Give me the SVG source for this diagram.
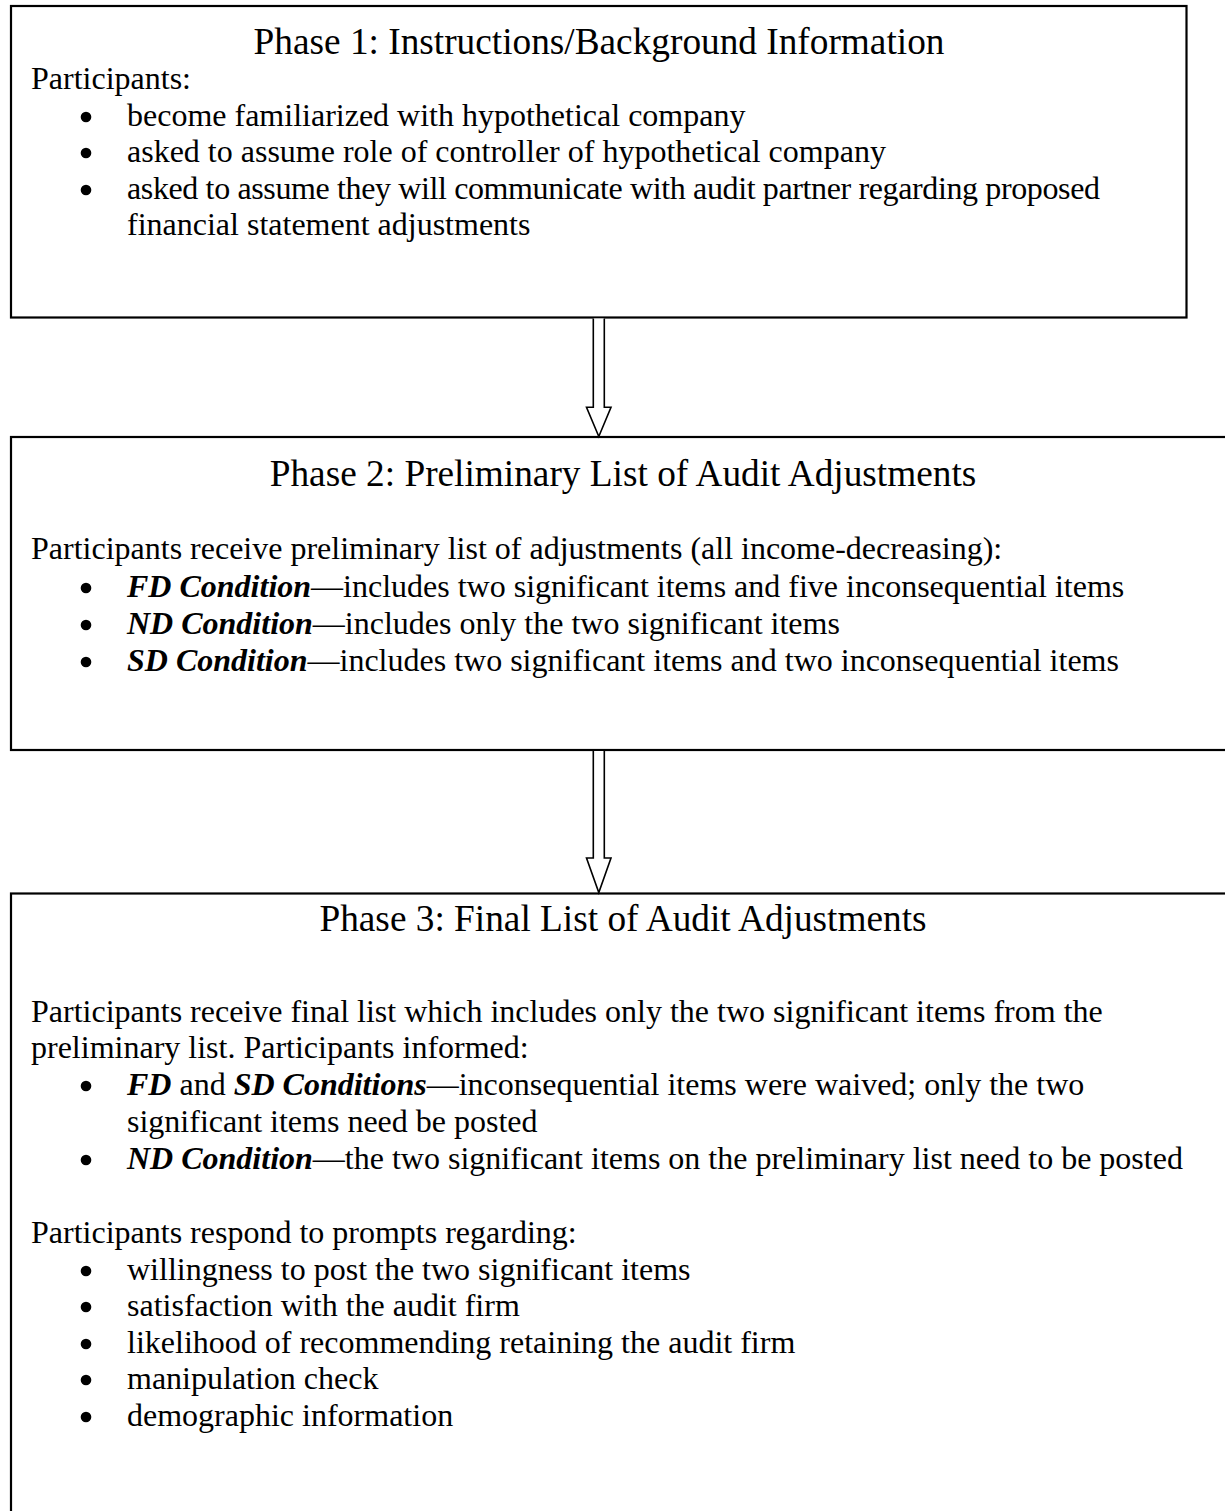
<svg xmlns="http://www.w3.org/2000/svg" width="1225" height="1511" viewBox="0 0 1225 1511">
<style>
.t{font-family:"Liberation Serif","Times New Roman",serif;font-size:32px;fill:#000}
.h{font-size:37.3px;text-anchor:middle}
.bi{font-weight:bold;font-style:italic}
.dot{fill:#000}
.box{fill:#fff;stroke:#000;stroke-width:2.2}
.arr{fill:#fff;stroke:#000;stroke-width:1.6;stroke-linejoin:miter}
</style>
<rect width="1225" height="1511" fill="#fff"/>
<g id="phase1">
<rect class="box" x="11" y="6" width="1175.5" height="311.5"/>
<text class="t h" x="599" y="54">Phase 1: Instructions/Background Information</text>
<text class="t" x="31" y="89">Participants:</text>
<circle class="dot" cx="86" cy="117" r="5.3"/>
<text class="t" x="127" y="126">become familiarized with hypothetical company</text>
<circle class="dot" cx="86" cy="153" r="5.3"/>
<text class="t" x="127" y="162">asked to assume role of controller of hypothetical company</text>
<circle class="dot" cx="86" cy="190" r="5.3"/>
<text class="t" x="127" y="199" textLength="973" lengthAdjust="spacing">asked to assume they will communicate with audit partner regarding proposed</text>
<text class="t" x="127" y="235">financial statement adjustments</text>
</g>
<g id="phase2">
<rect class="box" x="11" y="437" width="1225" height="313"/>
<text class="t h" x="623" y="486">Phase 2: Preliminary List of Audit Adjustments</text>
<text class="t" x="31" y="559">Participants receive preliminary list of adjustments (all income-decreasing):</text>
<circle class="dot" cx="86" cy="588" r="5.3"/>
<text class="t" x="127" y="597"><tspan class="bi">FD Condition</tspan>—includes two significant items and five inconsequential items</text>
<circle class="dot" cx="86" cy="625" r="5.3"/>
<text class="t" x="127" y="634"><tspan class="bi">ND Condition</tspan>—includes only the two significant items</text>
<circle class="dot" cx="86" cy="662" r="5.3"/>
<text class="t" x="127" y="671"><tspan class="bi">SD Condition</tspan>—includes two significant items and two inconsequential items</text>
</g>
<g id="phase3">
<rect class="box" x="11" y="893.5" width="1225" height="640"/>
<text class="t h" x="623" y="931">Phase 3: Final List of Audit Adjustments</text>
<text class="t" x="31" y="1022">Participants receive final list which includes only the two significant items from the</text>
<text class="t" x="31" y="1058">preliminary list. Participants informed:</text>
<circle class="dot" cx="86" cy="1086" r="5.3"/>
<text class="t" x="127" y="1095"><tspan class="bi">FD</tspan> and <tspan class="bi">SD Conditions</tspan>—inconsequential items were waived; only the two</text>
<text class="t" x="127" y="1132">significant items need be posted</text>
<circle class="dot" cx="86" cy="1160" r="5.3"/>
<text class="t" x="127" y="1169"><tspan class="bi">ND Condition</tspan>—the two significant items on the preliminary list need to be posted</text>
<text class="t" x="31" y="1243">Participants respond to prompts regarding:</text>
<circle class="dot" cx="86" cy="1271" r="5.3"/>
<text class="t" x="127" y="1280">willingness to post the two significant items</text>
<circle class="dot" cx="86" cy="1307" r="5.3"/>
<text class="t" x="127" y="1316">satisfaction with the audit firm</text>
<circle class="dot" cx="86" cy="1344" r="5.3"/>
<text class="t" x="127" y="1353">likelihood of recommending retaining the audit firm</text>
<circle class="dot" cx="86" cy="1380" r="5.3"/>
<text class="t" x="127" y="1389">manipulation check</text>
<circle class="dot" cx="86" cy="1417" r="5.3"/>
<text class="t" x="127" y="1426">demographic information</text>
</g>
<g id="connectors">
<path class="arr" d="M593.3,318.5 V407.3 H586.5 L598.8,436.5 L611,407.3 H604.3 V318.5"/>
<path class="arr" d="M593.3,751 V858 H586.5 L598.8,892.5 L611,858 H604.3 V751"/>
</g>
</svg>
